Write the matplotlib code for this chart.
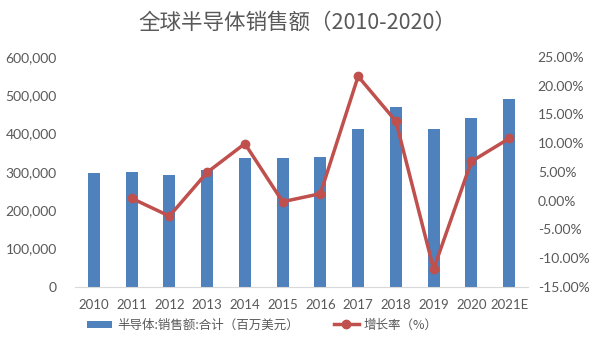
import matplotlib
matplotlib.use("Agg")
import matplotlib.pyplot as plt
import numpy as np
from matplotlib.ticker import FuncFormatter

plt.rcParams['font.family'] = ['Lato', 'Noto Sans CJK SC', 'DejaVu Sans']

years = ["2010", "2011", "2012", "2013", "2014", "2015", "2016", "2017", "2018", "2019", "2020", "2021E"]
sales = [298000, 300000, 291500, 306000, 336000, 335000, 339000, 412000, 469000, 412000, 440000, 489000]
growth_years = years[1:]
growth = [0.4, -2.7, 4.9, 9.9, -0.2, 1.2, 21.6, 13.8, -11.9, 6.8, 10.8]

title = "全球半导体销售额（2010-2020）"
bar_label = "半导体:销售额:合计（百万美元）"
line_label = "增长率（%）"

bar_color = "#4F81BD"
line_color = "#C0504D"
text_color = "#595959"

fig = plt.figure(figsize=(6, 3.55), dpi=100)
ax = fig.add_axes([0.125, 0.192, 0.755, 0.648])
ax2 = ax.twinx()

x = np.arange(len(years))
ax.bar(x, sales, width=0.32, color=bar_color, label=bar_label, zorder=2)
gx = x[1:]
ax2.plot(gx, growth, color=line_color, lw=2.5, marker='o', ms=6, label=line_label, zorder=3)

ax.set_xlim(-0.5, len(years) - 0.5)
ax.set_ylim(0, 600000)
ax.set_yticks(np.arange(0, 600001, 100000))
ax.yaxis.set_major_formatter(FuncFormatter(lambda v, p: f"{int(v):,}"))
ax2.set_ylim(-15, 25)
ax2.set_yticks(np.arange(-15, 25.1, 5))
ax2.yaxis.set_major_formatter(FuncFormatter(lambda v, p: f"{v:.2f}%"))

ax.set_xticks(x)
ax.set_xticklabels(years)

for a in (ax, ax2):
    for s in ('top', 'left', 'right'):
        a.spines[s].set_visible(False)
    a.spines['bottom'].set_color('#D9D9D9')
    a.tick_params(axis='both', length=0, labelsize=10, colors=text_color)
ax2.spines['bottom'].set_visible(False)
ax.tick_params(axis='x', pad=9, labelsize=9.5)
ax.tick_params(axis='y', pad=13)
ax2.tick_params(axis='y', pad=7)

fig.text(0.495, 0.935, title, ha='center', va='center', fontsize=15.5, color=text_color,
         family=['Noto Sans CJK SC', 'DejaVu Sans'])

h1, l1 = ax.get_legend_handles_labels()
h2, l2 = ax2.get_legend_handles_labels()
leg = fig.legend(h1 + h2, l1 + l2, loc='center', bbox_to_anchor=(0.437, 0.085), ncol=2,
                 frameon=False, handlelength=2.0, handletextpad=0.4, columnspacing=2.8,
                 prop={'family': ['Noto Sans CJK SC', 'DejaVu Sans'], 'size': 9})
for t in leg.get_texts():
    t.set_color(text_color)
leg.legend_handles[0].set_height(5)

fig.savefig("out.png", dpi=100)
